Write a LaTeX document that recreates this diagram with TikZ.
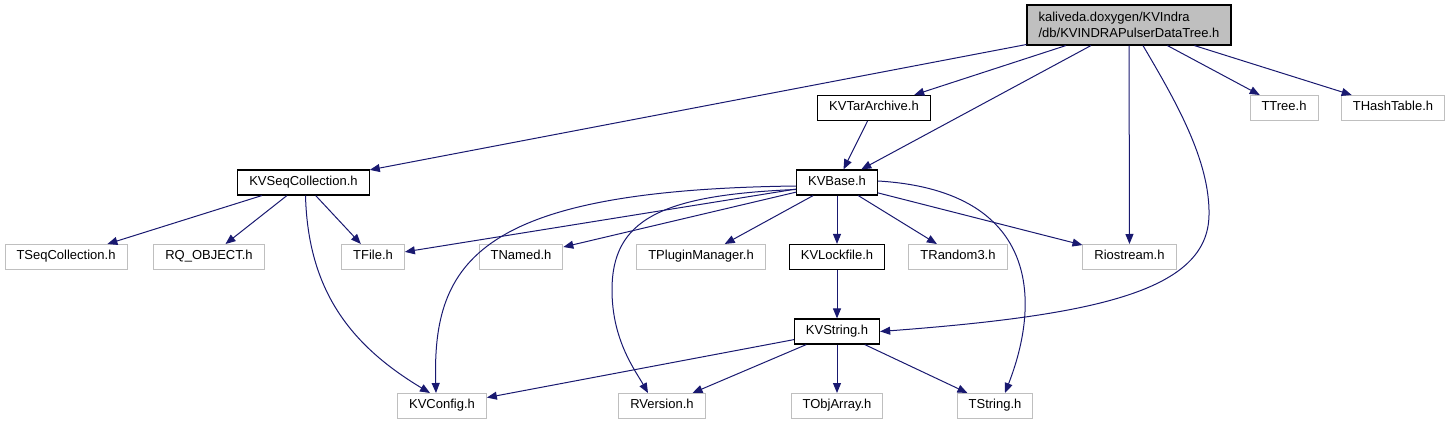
\documentclass[tikz,border=0pt]{standalone}
\usepackage{fontspec}
\setmainfont{Liberation Sans}
\usepackage{xcolor}
\usepackage{tikz}
\usetikzlibrary{arrows.meta}
\definecolor{edgeblue}{HTML}{191970}
\definecolor{boxgray}{HTML}{BFBFBF}
\tikzstyle{hbox}=[rectangle, line width=1pt, inner xsep=11.5pt, inner ysep=0pt,% one line header box
minimum height=25pt, text height=9.4pt, text depth=3.6pt, font=\fontsize{13}{15.5}\selectfont]
\tikzstyle{hblk}=[hbox, draw=black, line width=1.2pt]
\tikzstyle{hgry}=[hbox, draw=boxgray]
\tikzstyle{hroot}=[rectangle, draw=black, fill=boxgray, line width=1.2pt, align=left,
inner xsep=11.5pt, minimum height=40pt, font=\fontsize{13}{15.5}\selectfont]
\tikzstyle{dep}=[-{Triangle[length=10pt,width=8pt]}, line width=1pt, edgeblue]

\begin{document}
\begin{tikzpicture}[x=1pt, y=-1pt]
\useasboundingbox (0,0) rectangle (1451,425);

\node[hroot] (root) at (1129,25) {kaliveda.doxygen/KVIndra\\/db/KVINDRAPulserDataTree.h};

\node[hblk] (kvtar) at (874,108) {KVTarArchive.h};
\node[hgry] (ttree) at (1284,108) {TTree.h};
\node[hgry] (thash) at (1393,108) {THashTable.h};

\node[hblk] (kvseq) at (303.5,182.5) {KVSeqCollection.h};
\node[hblk] (kvbase) at (837,182.5) {KVBase.h};

\node[hgry] (tseqcol) at (66,257) {TSeqCollection.h};
\node[hgry] (rqobj) at (209,257) {RQ\_OBJECT.h};
\node[hgry] (tfile) at (373,257) {TFile.h};
\node[hgry] (tnamed) at (521,257) {TNamed.h};
\node[hgry] (tplugin) at (701,257) {TPluginManager.h};
\node[hblk] (kvlock) at (837,257) {KVLockfile.h};
\node[hgry] (trandom) at (958,257) {TRandom3.h};
\node[hgry] (riostr) at (1129.5,257) {Riostream.h};

\node[hblk] (kvstring) at (837,331.5) {KVString.h};

\node[hgry] (kvconfig) at (442,406) {KVConfig.h};
\node[hgry] (rversion) at (662,406) {RVersion.h};
\node[hgry] (tobjarr) at (837,406) {TObjArray.h};
\node[hgry] (tstring) at (995,406) {TString.h};

\draw [dep] (root) -- (kvseq);
\draw [dep] (root) -- (kvtar);
\draw [dep] (root) -- (kvbase);
\draw [dep] (root) -- (riostr);
\draw [dep] ([xshift=14pt]root.south) .. controls (1175,100) and (1210,160) .. (1209,215)
  .. controls (1208,290) and (1100,315) .. (kvstring.east);
\draw [dep] (root) -- (ttree);
\draw [dep] (root) -- (thash);

\draw [dep] (kvtar) -- (kvbase);

\draw [dep] (kvseq) -- (tseqcol);
\draw [dep] (kvseq) -- (rqobj);
\draw [dep] (kvseq) -- (tfile);
\draw [dep] ([xshift=2pt]kvseq.south) .. controls (308,290) and (350,345) .. ([xshift=-12pt]kvconfig.north);

\draw [dep] (kvbase) -- (tfile);
\draw [dep] (kvbase) -- (tnamed);
\draw [dep] (kvbase) -- (tplugin);
\draw [dep] (kvbase) -- (kvlock);
\draw [dep] (kvbase) -- (trandom);
\draw [dep] (kvbase) -- (riostr);
\draw [dep] ([yshift=-3.5pt]kvbase.west) .. controls (480,190) and (432,260) .. ([xshift=-6pt]kvconfig.north);
\draw [dep] ([yshift=-7pt]kvbase.west) .. controls (660,195) and (612,220) .. (612,290)
  .. controls (612,340) and (635,370) .. ([xshift=-14pt]rversion.north);
\draw [dep] ([yshift=1.5pt]kvbase.east) .. controls (1030,190) and (1045,290) .. ([xshift=10pt]tstring.north);

\draw [dep] (kvlock) -- (kvstring);

\draw [dep] (kvstring) -- (kvconfig);
\draw [dep] (kvstring) -- (rversion);
\draw [dep] (kvstring) -- (tobjarr);
\draw [dep] (kvstring) -- (tstring);

\end{tikzpicture}
\end{document}
